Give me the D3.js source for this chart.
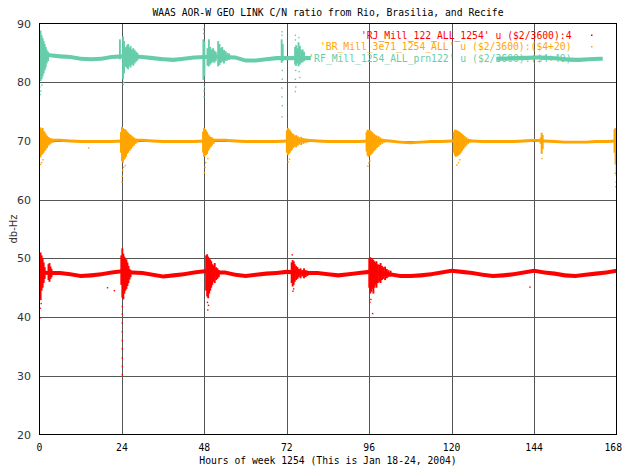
<!DOCTYPE html>
<html><head><meta charset="utf-8">
<script src="https://cdn.jsdelivr.net/npm/d3@7/dist/d3.min.js"></script>
<style>
html,body{margin:0;padding:0;background:#fff;}
svg{display:block;}
</style></head>
<body>
<svg id="chart" width="623" height="467"></svg>
<script>
// ---------------- DATA ----------------
const titleText = "WAAS AOR-W GEO LINK C/N ratio from Rio, Brasilia, and Recife";
const xLabelText = "Hours of week 1254 (This is Jan 18-24, 2004)";
const yLabelText = "db-Hz";
const xTicks = [0, 24, 48, 72, 96, 120, 144, 168];
const yTicks = [20, 30, 40, 50, 60, 70, 80, 90];
const seriesNames = [
  "'RJ_Mill_122_ALL_1254' u ($2/3600):4",
  "'BR_Mill_3e71_1254_ALL' u ($2/3600):($4+20)",
  "'RF_Mill_1254_ALL_prn122' u ($2/3600):($4+40)"
];
const seriesColors = ["#ff0000", "#ffa500", "#66cdaa"];

// steady band level (hours / value)
const bandHours = [0,3,6,9,12,15,18,21,24,27,30,33,36,39,42,45,48,51,54,57,60,63,66,69,72,75,78,81,84,87,90,93,96,99,102,105,108,111,114,117,120,123,126,129,132,135,138,141,144,147,150,153,156,159,162,165,168];
const rjLevel = [47.6,47.5,47.5,47.3,47.0,47.1,47.3,47.6,47.8,47.6,47.5,47.2,46.9,47.1,47.3,47.6,47.8,47.6,47.6,47.2,47.0,47.2,47.4,47.5,47.7,47.6,47.5,47.5,47.3,47.1,47.3,47.5,47.7,47.5,47.3,47.0,47.0,47.1,47.3,47.6,47.9,47.7,47.5,47.2,47.0,47.1,47.3,47.6,47.9,47.6,47.4,47.1,47.0,47.2,47.4,47.6,47.9];
const brLevel = [70.0,70.1,70.1,70.0,69.9,69.9,69.9,69.9,70.0,70.1,70.1,70.0,69.9,69.9,69.9,69.9,70.0,70.1,70.1,70.0,69.9,69.9,69.9,69.9,70.0,70.1,70.1,70.0,69.9,69.9,69.9,69.9,70.0,70.1,70.0,69.8,69.7,69.8,69.9,69.9,70.0,70.1,70.0,69.9,69.9,69.9,69.9,70.0,70.1,70.0,69.9,69.8,69.8,69.8,69.9,69.9,70.0];
const rfHours = [0,3,6,9,12,15,18,21,24,27,30,33,36,39,42,45,48,51,54,57,60,63,66,69,72,75,78,79,106,133,136,139,142,145,148,151,154,157,160,163,164];
const rfLevel = [84.5,84.6,84.4,84.3,84.0,83.9,84.0,84.3,84.4,84.4,84.3,84.1,83.9,83.8,84.0,84.2,84.3,84.4,84.3,84.2,83.7,83.7,83.9,84.1,84.1,84.1,84.1,84.1,null,84.0,84.05,84.1,84.15,84.2,84.15,84.05,83.85,83.8,83.9,84.0,84.0];

// scintillation bursts: [hour, low, high]
const rjBursts = [
 [0.0,44.0,50.8],[0.3,43.0,51.0],[0.6,44.5,50.5],[0.9,45.0,50.0],[1.2,45.8,49.3],[1.5,46.5,48.5],
 [2.6,46.3,49.0],[2.9,46.0,49.2],[3.2,46.5,48.6],[3.5,46.8,48.2],
 [23.8,45.5,50.5],[24.1,43.3,51.7],[24.4,43.0,50.8],[24.7,44.0,50.3],[25.0,44.5,50.0],[25.3,44.8,49.8],[25.6,45.3,49.3],[25.9,45.8,48.7],[26.2,46.4,48.2],[26.5,46.8,48.0],
 [48.5,44.5,50.5],[48.8,43.5,50.7],[49.1,43.2,50.3],[49.4,44.0,50.0],[49.7,44.5,49.8],[50.0,45.0,49.5],[50.3,45.5,49.0],[50.6,46.0,48.8],[51.0,45.8,49.2],[51.4,46.3,48.5],[51.8,46.5,48.3],[52.2,46.8,48.0],
 [73.4,45.8,49.3],[73.7,45.2,49.7],[74.0,45.5,49.5],[74.3,46.0,49.0],[74.7,46.3,48.7],[75.1,46.5,48.5],[75.5,46.8,48.2],[76.0,46.6,48.3],[76.5,46.9,48.0],[77.0,46.6,48.3],[77.5,46.8,48.0],[78.0,47.0,47.9],
 [96.0,45.0,50.0],[96.3,44.0,50.2],[96.6,44.3,49.8],[96.9,44.8,50.0],[97.2,44.0,49.7],[97.5,45.0,49.5],[97.8,45.5,49.3],[98.1,45.0,49.5],[98.5,45.8,49.0],[98.9,46.0,48.9],[99.3,45.8,49.2],[99.7,46.3,48.7],[100.1,46.5,48.5],[100.6,46.3,48.6],[101.1,46.6,48.2],[101.6,46.8,48.0],[102.2,46.9,47.9]
];
const brBursts = [
 [0.0,67.5,72.0],[0.3,67.2,72.3],[0.6,67.6,72.0],[0.9,67.8,72.2],[1.2,68.0,71.7],[1.5,68.3,71.5],[1.8,68.5,71.2],[2.2,68.8,70.9],[2.6,69.2,70.7],[3.0,69.4,70.5],[3.5,69.6,70.4],[4.0,69.7,70.3],
 [23.7,68.0,71.5],[24.0,66.5,72.4],[24.3,66.3,72.2],[24.6,66.8,72.0],[24.9,67.0,72.0],[25.2,67.3,71.8],[25.5,67.8,71.6],[25.8,68.0,71.4],[26.2,68.3,71.2],[26.6,68.6,71.0],[27.0,68.9,70.8],[27.5,69.2,70.6],[28.0,69.5,70.4],[28.5,69.7,70.3],
 [47.6,68.0,71.6],[47.9,67.3,72.2],[48.2,67.5,72.0],[48.5,67.6,71.8],[48.8,67.8,71.5],[49.1,68.3,71.1],[49.4,68.6,70.9],[49.8,68.9,70.7],[50.2,69.2,70.6],[50.7,69.5,70.4],
 [72.0,68.0,71.8],[72.3,67.6,72.2],[72.6,67.8,72.0],[72.9,68.0,71.8],[73.2,68.3,71.6],[73.5,68.5,71.3],[73.9,68.8,71.2],[74.3,69.0,70.9],[74.7,68.9,71.0],[75.2,69.2,70.8],[75.7,69.4,70.6],[76.2,69.3,70.7],[76.8,69.5,70.5],[77.4,69.6,70.4],[78.0,69.7,70.3],
 [95.2,68.2,71.5],[95.5,67.5,71.9],[95.8,67.3,71.8],[96.1,67.5,71.9],[96.4,67.6,71.7],[96.7,67.8,71.6],[97.0,68.0,71.4],[97.4,68.3,71.2],[97.8,68.5,71.0],[98.2,68.8,70.9],[98.7,69.0,70.8],[99.2,69.3,70.6],[99.8,69.5,70.4],[100.4,69.7,70.3],
 [120.6,68.0,71.5],[120.9,67.5,71.9],[121.2,67.3,71.9],[121.5,67.4,71.8],[121.8,67.5,71.7],[122.1,67.6,71.6],[122.4,67.8,71.5],[122.7,68.0,71.3],[123.0,68.3,71.2],[123.4,68.6,71.0],[123.8,68.9,70.8],[124.3,69.2,70.6],[124.8,69.5,70.4],[125.4,69.7,70.3],
 [145.9,69.5,70.6],[146.2,67.8,71.4],[146.5,68.6,71.0],
 [167.4,68.0,72.0],[167.7,66.0,72.2],[168.0,64.0,72.0]
];
const rfBursts = [
 [0.0,80.5,88.5],[0.3,80.2,88.8],[0.6,80.5,88.0],[0.9,81.0,87.5],[1.2,81.5,87.0],[1.5,82.0,86.5],[1.8,82.5,86.0],[2.1,83.2,85.5],[2.5,83.6,85.2],
 [23.4,83.9,87.3],[24.3,80.5,87.8],[24.6,81.5,87.0],[24.9,82.8,85.8],[25.2,82.6,86.0],[25.5,82.4,86.3],[25.8,82.2,86.5],[26.1,82.8,85.9],[26.5,82.5,86.2],[26.9,83.0,85.6],[27.3,82.8,85.8],[27.7,83.2,85.5],[28.1,83.5,85.2],[28.5,83.7,85.0],
 [47.7,80.4,87.3],[48.0,81.0,87.0],[48.9,82.8,85.8],[49.3,82.7,87.3],[49.7,83.0,86.0],[50.1,83.3,85.6],[50.5,83.5,85.8],[50.9,83.3,85.4],[51.3,83.6,85.2],[52.0,82.7,87.0],[52.4,82.9,86.5],[52.8,83.3,85.8],[53.2,83.5,86.0],[53.7,83.2,85.5],[54.2,83.6,85.3],[54.7,83.7,85.0],[55.2,83.8,84.9],
 [70.5,83.3,87.3],[70.8,83.6,86.5],[74.4,83.0,86.0],[74.7,82.8,86.3],[75.0,83.2,85.8],[75.4,82.7,86.8],[75.8,83.0,86.2],[76.2,83.3,85.5],[76.6,83.4,85.6],[77.0,83.6,85.2]
];
// isolated points: [hour, value]
const rjDots = [[0.1,39.8],[0.2,41.5],[0.5,42.3],[0.4,43.0],[19.8,45.0],[21.8,44.5],
 [24.1,30.2],[24.1,31.6],[24.1,33.0],[24.1,34.6],[24.1,36.0],[24.1,37.5],[24.1,39.0],[24.1,40.5],[24.1,41.8],
 [49.0,41.2],[49.2,42.0],[48.9,42.5],[73.6,50.6],[73.8,44.4],[74.0,44.8],[96.2,42.5],[97.0,40.6],[96.5,43.0],[142.8,45.1]];
const brDots = [[0.3,66.0],[0.6,66.3],[1.0,66.8],[14.3,68.8],[24.0,63.0],[24.1,64.0],[24.2,65.0],[24.5,65.5],[25.0,65.8],
 [48.0,64.6],[48.2,65.5],[48.4,66.3],[49.0,67.0],[72.4,66.4],[72.8,66.9],[95.6,65.7],[95.9,66.2],[96.2,66.6],
 [121.5,65.9],[122.0,66.3],[122.4,66.8],[146.3,67.0],[167.8,62.2],[167.9,63.0],[167.6,64.5]];
const rfDots = [[0.2,77.9],[0.4,78.5],[0.1,79.2],[0.7,79.5],[24.4,79.6],[24.5,80.0],
 [47.8,89.0],[47.8,88.3],[47.9,78.5],[47.9,77.5],[48.0,79.2],
 [70.6,88.6],[70.6,88.0],[70.7,82.0],[70.7,80.5],[70.6,79.0],[70.6,77.5],[70.7,76.0],[70.6,74.1],
 [74.5,88.0],[74.5,87.2],[74.6,82.0],[74.5,80.5],[74.6,79.2],[74.5,78.4],[75.5,87.6],[75.6,81.8],[75.8,80.8]];

// ---------------- DRAW ----------------
const svg = d3.select("#chart");
const L = 39.5, R = 616.5, T = 23.5, B = 434.5;
const x = d3.scaleLinear().domain([0, 168]).range([L, R]);
const y = d3.scaleLinear().domain([20, 90]).range([B, T]);
const mono = "'DejaVu Sans Mono', 'Liberation Mono', monospace";
const charW = 5.85;

svg.append("rect").attr("width", 623).attr("height", 467).attr("fill", "#fff");

// grid
const grid = svg.append("g").attr("stroke", "#555").attr("stroke-width", 1).attr("shape-rendering", "crispEdges");
grid.selectAll("line.v").data(xTicks.slice(1, -1)).join("line")
  .attr("x1", d => Math.round(x(d)) + 0.5).attr("x2", d => Math.round(x(d)) + 0.5).attr("y1", T).attr("y2", B);
grid.selectAll("line.h").data(yTicks.slice(1, -1)).join("line")
  .attr("y1", d => Math.round(y(d)) + 0.5).attr("y2", d => Math.round(y(d)) + 0.5).attr("x1", L).attr("x2", R);

// title
svg.append("text").attr("x", (L + R) / 2).attr("y", 16).attr("text-anchor", "middle")
  .attr("font-family", mono).attr("font-size", 10).attr("fill", "#000")
  .attr("textLength", titleText.length * charW).attr("lengthAdjust", "spacingAndGlyphs")
  .text(titleText);

// y tick labels
svg.append("g").selectAll("text").data(yTicks).join("text")
  .attr("x", 31).attr("y", d => y(d) + 4).attr("text-anchor", "end")
  .attr("font-family", "'DejaVu Sans', sans-serif").attr("font-size", 10.5).attr("fill", "#333")
  .attr("textLength", 14).attr("lengthAdjust", "spacingAndGlyphs")
  .text(d => d);

// x tick labels (last one kept inside the page edge)
svg.append("g").selectAll("text").data(xTicks).join("text")
  .attr("x", d => Math.min(x(d), 622 - String(d).length * charW / 2)).attr("y", 451).attr("text-anchor", "middle")
  .attr("font-family", mono).attr("font-size", 10).attr("fill", "#000")
  .attr("textLength", d => String(d).length * charW).attr("lengthAdjust", "spacingAndGlyphs")
  .text(d => d);

// axis labels
svg.append("text").attr("x", (L + R) / 2).attr("y", 464).attr("text-anchor", "middle")
  .attr("font-family", mono).attr("font-size", 10).attr("fill", "#000")
  .attr("textLength", xLabelText.length * charW).attr("lengthAdjust", "spacingAndGlyphs")
  .text(xLabelText);
svg.append("text").attr("transform", "translate(17,229) rotate(-90)").attr("text-anchor", "middle")
  .attr("font-family", "'DejaVu Sans', sans-serif").attr("font-size", 10).attr("fill", "#333")
  .text(yLabelText);

// legend (drawn before data – data overlaps it in the original)
const legendRight = 571.5;
const legendY = [38.5, 50, 61.5];
const leg = svg.append("g");
leg.selectAll("text").data(seriesNames).join("text")
  .attr("x", legendRight).attr("y", (d, i) => legendY[i]).attr("text-anchor", "end")
  .attr("font-family", mono).attr("font-size", 10).attr("fill", (d, i) => seriesColors[i])
  .attr("textLength", d => d.length * charW).attr("lengthAdjust", "spacingAndGlyphs")
  .text(d => d);
leg.selectAll("rect").data(seriesNames).join("rect")
  .attr("x", 591).attr("y", (d, i) => legendY[i] - 4).attr("width", 1.5).attr("height", 1.5)
  .attr("fill", (d, i) => seriesColors[i]);

// data
svg.append("clipPath").attr("id", "plotclip").append("rect")
  .attr("x", L).attr("y", T).attr("width", R - L).attr("height", B - T);
const plot = svg.append("g").attr("clip-path", "url(#plotclip)");

function drawSeries(hours, levels, halfW, bursts, dots, color) {
  const rows = hours.map((h, i) => ({h, v: levels[i]}));
  const area = d3.area().defined(d => d.v != null)
    .x(d => x(d.h)).y0(d => y(d.v - halfW)).y1(d => y(d.v + halfW));
  plot.append("path").datum(rows).attr("d", area).attr("fill", color);
  plot.append("g").selectAll("rect").data(bursts).join("rect")
    .attr("x", d => x(d[0]) - 0.9).attr("width", 1.9)
    .attr("y", d => y(d[2])).attr("height", d => y(d[1]) - y(d[2]))
    .attr("fill", color);
  plot.append("g").selectAll("rect").data(dots).join("rect")
    .attr("x", d => x(d[0]) - 0.7).attr("width", 1.4)
    .attr("y", d => y(d[1]) - 0.7).attr("height", 1.4)
    .attr("fill", color);
}
drawSeries(bandHours, rjLevel, 0.35, rjBursts, rjDots, seriesColors[0]);
drawSeries(bandHours, brLevel, 0.25, brBursts, brDots, seriesColors[1]);
drawSeries(rfHours, rfLevel, 0.35, rfBursts, rfDots, seriesColors[2]);

// frame
svg.append("rect").attr("x", L).attr("y", T).attr("width", R - L).attr("height", B - T)
  .attr("fill", "none").attr("stroke", "#000").attr("stroke-width", 1).attr("shape-rendering", "crispEdges");
</script>
</body></html>
